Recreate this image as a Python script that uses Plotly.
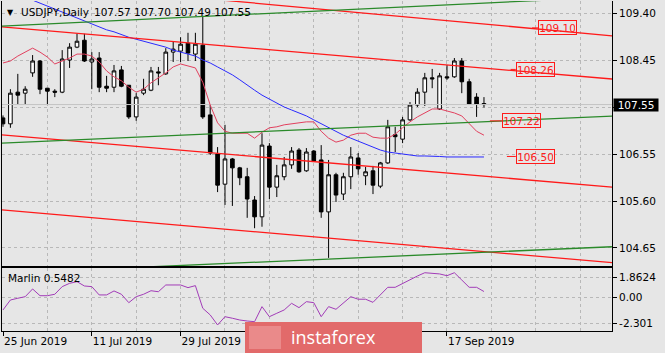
import pandas as pd
import plotly.graph_objects as go

# ---------------- data ----------------
dates = pd.bdate_range("2019-06-25", "2019-09-24")
date_labels = [d.strftime("%d %b %Y") for d in dates]

open_ = [107.28, 107.16, 107.80, 107.78, 108.19, 108.43, 107.88, 107.82, 107.80, 108.45,
         108.71, 108.85, 108.41, 108.49, 107.92, 107.90, 108.25, 107.94, 107.30, 107.78,
         107.84, 108.21, 108.17, 108.61, 108.63, 108.79, 108.57, 108.75, 107.34, 106.55,
         105.94, 106.45, 106.27, 106.09, 105.62, 105.28, 106.71, 105.88, 106.09, 106.33,
         106.63, 106.21, 106.61, 106.43, 105.38, 106.13, 105.74, 106.09, 106.47, 106.11,
         106.21, 105.90, 106.37, 106.94, 106.85, 107.24, 107.54, 107.80, 108.09, 107.46,
         108.11, 108.11, 108.43, 108.01, 107.70, 107.57]
high = [107.33, 107.86, 108.17, 107.92, 108.55, 108.45, 107.88, 107.86, 108.65, 108.79,
        108.98, 108.98, 108.61, 108.61, 108.13, 108.35, 108.33, 107.94, 107.78, 108.07,
        108.31, 108.31, 108.69, 108.83, 108.91, 109.00, 109.00, 109.32, 107.54, 106.69,
        107.14, 106.47, 106.29, 106.27, 105.70, 106.97, 106.77, 106.33, 106.49, 106.69,
        106.67, 106.67, 106.63, 106.73, 106.43, 106.17, 106.17, 106.69, 106.57, 106.29,
        106.31, 106.39, 107.24, 107.10, 107.30, 107.60, 107.88, 108.19, 108.27, 108.19,
        108.35, 108.49, 108.49, 108.07, 107.78, 107.70]
low = [107.10, 107.08, 107.56, 107.56, 108.11, 107.76, 107.54, 107.70, 107.78, 108.29,
       108.69, 108.41, 107.86, 107.80, 107.80, 107.80, 107.90, 107.26, 107.22, 107.74,
       107.82, 107.94, 108.15, 108.41, 108.41, 108.43, 108.43, 107.26, 106.53, 105.78,
       105.52, 105.50, 105.92, 105.26, 105.05, 105.08, 105.64, 105.68, 106.02, 106.25,
       106.17, 106.19, 106.39, 105.26, 104.45, 105.58, 105.62, 105.84, 106.13, 105.92,
       105.74, 105.86, 106.35, 106.59, 106.77, 107.22, 107.50, 107.52, 107.88, 107.44,
       108.05, 108.09, 107.78, 107.54, 107.30, 107.49]
close = [107.16, 107.78, 107.74, 107.86, 108.43, 107.86, 107.82, 107.80, 108.47, 108.71,
         108.83, 108.43, 108.47, 107.90, 107.88, 108.23, 107.92, 107.30, 107.70, 107.86,
         108.23, 108.19, 108.61, 108.67, 108.77, 108.59, 108.77, 107.30, 106.57, 105.92,
         106.45, 106.27, 106.07, 105.64, 105.28, 106.73, 105.88, 106.11, 106.33, 106.61,
         106.19, 106.59, 106.41, 105.38, 106.13, 105.72, 106.09, 106.49, 106.25, 106.19,
         105.92, 106.37, 107.10, 106.90, 107.24, 107.54, 107.80, 108.09, 108.07, 108.13,
         108.09, 108.43, 108.01, 107.56, 107.56, 107.55]

ma_fast = [108.39, 108.43, 108.53, 108.61, 108.69, 108.61, 108.51, 108.37, 108.43, 108.49,
           108.57, 108.57, 108.53, 108.41, 108.23, 108.11, 108.03, 107.90, 107.80, 107.86,
           107.99, 108.09, 108.19, 108.31, 108.37, 108.33, 108.29, 108.00, 107.54, 107.18,
           107.01, 106.97, 106.97, 106.97, 106.87, 106.99, 107.08, 107.10, 107.14, 107.16,
           107.18, 107.20, 107.20, 107.01, 106.87, 106.79, 106.83, 106.93, 106.97, 106.97,
           106.89, 106.87, 106.87, 106.95, 107.08, 107.20, 107.30, 107.38, 107.46, 107.46,
           107.42, 107.38, 107.32, 107.16, 107.01, 106.93]
ma_slow = [109.89, 109.82, 109.76, 109.70, 109.66, 109.60, 109.54, 109.48, 109.42, 109.36,
           109.30, 109.24, 109.18, 109.12, 109.06, 109.02, 108.96, 108.91, 108.87, 108.83,
           108.79, 108.75, 108.71, 108.65, 108.61, 108.57, 108.53, 108.45, 108.39, 108.31,
           108.23, 108.15, 108.05, 107.94, 107.84, 107.74, 107.66, 107.58, 107.50, 107.44,
           107.38, 107.32, 107.24, 107.16, 107.08, 107.00, 106.93, 106.87, 106.81, 106.75,
           106.69, 106.63, 106.59, 106.57, 106.55, 106.53, 106.51, 106.51, 106.51, 106.50,
           106.49, 106.49, 106.49, 106.49, 106.49, 106.49]
marlin = [-1.12, -0.22, -0.06, 0.08, 0.78, 0.17, 0.17, 0.30, 0.99, 1.29,
          1.44, 1.05, 0.99, 0.24, 0.24, 0.60, 0.30, -0.46, 0.08, 0.30,
          0.62, 0.53, 1.14, 1.14, 1.14, 0.90, 1.08, -0.97, -1.57, -2.48,
          -1.73, -1.87, -2.03, -2.12, -2.18, -0.82, -1.73, -1.42, -1.12, -0.52,
          -0.91, -0.37, -0.46, -1.73, -0.82, -1.06, -0.52, 0.08, -0.15, -0.15,
          -0.43, 0.24, 0.93, 0.93, 1.29, 1.59, 1.95, 2.25, 2.20, 2.14,
          1.98, 2.25, 1.59, 0.93, 0.93, 0.5482]

# visible date labels (the ones under the watermark are hidden in the reference)
tick_labels = ["25 Jun 2019", "11 Jul 2019", "29 Jul 2019", "17 Sep 2019"]
price_ticks = [104.65, 105.60, 106.55, 107.50, 108.45, 109.40]
price_ticktext = ["104.65", "105.60", "106.55", "", "108.45", "109.40"]  # 107.50 sits under the price box
marlin_ticks = [1.8624, 0.0, -2.301]
marlin_ticktext = ["1.8624", "0.00", "-2.301"]

# trend channel lines: price at bar -1 and bar 83
line_bars = [-1, 83]
red_lines = [[110.08, 108.93], [109.13, 108.057], [106.947, 105.871], [105.431, 104.344]]
green_lines = [[109.130, 109.729], [106.765, 107.322], [104.134, 104.680]]

levels = [109.10, 108.26, 107.22, 106.50]

# ---------------- layout constants ----------------
W, H = 665, 353
BG = "#e6e6e6"
GRID = "#b8b8b8"
FONT = "DejaVu Sans"
FS = 10.5
level_label_x = [72.3, 69.3, 67.4, 69.3]
level_stub_x0 = [71.5, 68.6, 65.8, 68.1]

def px_x(p):
    return p / W

def px_y(p):
    return 1 - p / H

idx = list(range(len(close)))
tick_pos = [date_labels.index(t) for t in tick_labels]
x_range = [-0.135, 82.3]

fig = go.Figure()

fig.add_trace(go.Scatter(x=[x_range[0] - 1, x_range[1] + 1], y=[close[-1], close[-1]],
                         mode="lines", line=dict(color="#c4c4c4", width=1),
                         hoverinfo="skip", showlegend=False))

fig.add_trace(go.Candlestick(
    x=idx, open=open_, high=high, low=low, close=close,
    increasing=dict(fillcolor="white", line=dict(color="black", width=1)),
    decreasing=dict(fillcolor="black", line=dict(color="black", width=1)),
    whiskerwidth=0, showlegend=False, hoverinfo="skip"))

fig.add_trace(go.Scatter(x=idx, y=ma_fast, mode="lines",
                         line=dict(color="#e2405e", width=1), hoverinfo="skip", showlegend=False))
fig.add_trace(go.Scatter(x=idx, y=ma_slow, mode="lines",
                         line=dict(color="#2a2aff", width=1), hoverinfo="skip", showlegend=False))

for ln in red_lines:
    fig.add_trace(go.Scatter(x=line_bars, y=ln, mode="lines",
                             line=dict(color="#ff1a1a", width=1.3), hoverinfo="skip", showlegend=False))
for ln in green_lines:
    fig.add_trace(go.Scatter(x=line_bars, y=ln, mode="lines",
                             line=dict(color="#2a8a2a", width=1.3), hoverinfo="skip", showlegend=False))

# level stubs
for lv, x0, x1 in zip(levels, level_stub_x0, level_label_x):
    fig.add_trace(go.Scatter(x=[x0, x1], y=[lv, lv], mode="lines",
                             line=dict(color="#ff1a1a", width=1), hoverinfo="skip", showlegend=False))

fig.add_trace(go.Scatter(x=idx, y=marlin, mode="lines", xaxis="x2", yaxis="y2",
                         line=dict(color="#a23cb8", width=1), hoverinfo="skip", showlegend=False))

dom_x = [px_x(2), px_x(612)]
grid_common = dict(gridcolor=GRID, griddash="3px,3px", gridwidth=1)

fig.update_layout(
    width=W, height=H, margin=dict(l=0, r=0, t=0, b=0),
    paper_bgcolor=BG, plot_bgcolor=BG,
    font=dict(family=FONT, size=FS, color="black"),
    showlegend=False,
    xaxis=dict(domain=dom_x, anchor="y", range=x_range, tickmode="linear", tick0=0, dtick=6,
               showticklabels=False, ticks="", showgrid=True, zeroline=False,
               showline=True, linecolor="black", linewidth=1, mirror=False,
               rangeslider=dict(visible=False), **grid_common),
    yaxis=dict(domain=[px_y(266), px_y(1)], anchor="x", range=[104.286, 109.643], side="right",
               tickmode="array", tickvals=price_ticks, ticktext=price_ticktext,
               ticks="outside", ticklen=4, tickcolor="black", showgrid=True, zeroline=False,
               showline=True, linecolor="black", linewidth=1, mirror=True, **grid_common),
    xaxis2=dict(domain=dom_x, anchor="y2", range=x_range, matches="x",
                tickmode="array", tickvals=tick_pos, ticktext=tick_labels,
                ticklabelposition="outside right",
                ticks="outside", ticklen=4, tickcolor="black", showgrid=True, zeroline=False,
                showline=True, linecolor="black", linewidth=1, mirror=True,
                minor=dict(tick0=0, dtick=6, showgrid=True, gridcolor=GRID, griddash="3px,3px", ticks=""),
                rangeslider=dict(visible=False), **grid_common),
    yaxis2=dict(domain=[px_y(331), px_y(268)], anchor="x2", range=[-3.025, 2.677], side="right",
                tickmode="array", tickvals=marlin_ticks, ticktext=marlin_ticktext,
                ticks="outside", ticklen=4, tickcolor="black", showgrid=True, zeroline=False,
                showline=True, linecolor="black", linewidth=1, mirror=True, **grid_common),
)

ann = []
# title
ann.append(dict(x=px_x(10), y=px_y(12), xref="paper", yref="paper", text="▼", showarrow=False,
                font=dict(size=8, color="black"), xanchor="center", yanchor="middle"))
ann.append(dict(x=px_x(19), y=px_y(12), xref="paper", yref="paper",
                text="USDJPY,Daily", showarrow=False, xanchor="left", yanchor="middle"))
ann.append(dict(x=px_x(92), y=px_y(12), xref="paper", yref="paper",
                text=f"{open_[-1]:.2f} {high[-1]:.2f} {low[-1]:.2f} {close[-1]:.2f}",
                showarrow=False, xanchor="left", yanchor="middle"))
# marlin label
ann.append(dict(x=px_x(6), y=px_y(278), xref="paper", yref="paper",
                text=f"Marlin {marlin[-1]:.4f}", showarrow=False, xanchor="left", yanchor="middle"))
# level labels
for lv, lx in zip(levels, level_label_x):
    ann.append(dict(x=lx, y=lv, xref="x", yref="y", text=f"{lv:.2f}", showarrow=False,
                    xanchor="left", yanchor="middle", font=dict(color="#ff2020", size=FS),
                    bordercolor="#ff1a1a", borderwidth=1, borderpad=1, width=35, height=11))
# current price box
ann.append(dict(x=px_x(613), y=close[-1], xref="paper", yref="y", text=f"{close[-1]:.2f}",
                showarrow=False, xanchor="left", yanchor="middle", font=dict(color="white", size=FS),
                bgcolor="black", borderpad=1, width=42, height=10))
# watermark
ann.append(dict(x=px_x(289), y=px_y(337), xref="paper", yref="paper", text="instaforex",
                showarrow=False, xanchor="left", yanchor="middle",
                font=dict(family="Open Sans", size=18, color="white")))
fig.update_layout(annotations=ann)

fig.update_layout(shapes=[
    dict(type="rect", xref="paper", yref="paper", x0=px_x(245), x1=px_x(422), y0=px_y(353), y1=px_y(322),
         fillcolor="#e26a6a", line=dict(width=0), layer="above"),
    dict(type="rect", xref="paper", yref="paper", x0=px_x(249), x1=px_x(281), y0=px_y(349), y1=px_y(326),
         fillcolor="#ea8a8a", line=dict(width=0), layer="above"),
])

fig.write_html("out.html")
